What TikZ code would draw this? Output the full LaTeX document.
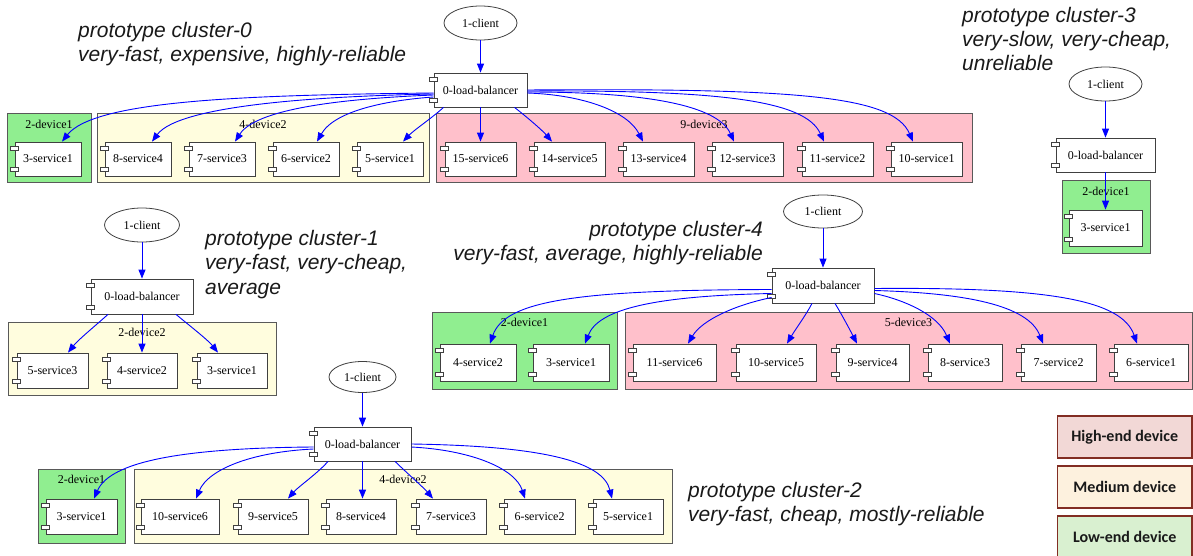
\documentclass[tikz,border=0pt]{standalone}
\usepackage{fontspec}
\setmainfont{Liberation Serif}
\newfontfamily\capfont{Liberation Sans}
\newfontfamily\legfont{Carlito}
\usetikzlibrary{shapes.geometric,arrows.meta}
\definecolor{clgreen}{HTML}{90EE90}
\definecolor{clyellow}{HTML}{FFFDDE}
\definecolor{clpink}{HTML}{FFC0CB}
\definecolor{edgeblue}{HTML}{0000FF}
\definecolor{legborder}{RGB}{130,45,35}
\definecolor{leghigh}{RGB}{242,216,214}
\definecolor{legmed}{RGB}{253,241,222}
\definecolor{leglow}{RGB}{217,240,208}
\tikzset{
  comp/.style={draw=black!75, fill=white, line width=0.8pt, inner sep=0pt, font=\fontsize{12}{14}\selectfont},
  compnub/.style={draw=black!75, fill=white, line width=0.6pt},
  clbox/.style={draw=black!65, line width=1pt, inner sep=0pt},
  cllabel/.style={inner sep=0pt, font=\fontsize{12}{14}\selectfont},
  client/.style={ellipse, draw=black!75, fill=white, line width=0.8pt, inner sep=0pt, font=\fontsize{12}{14}\selectfont},
  arrowline/.style={draw=edgeblue, line width=0.9pt, -{Triangle[length=9pt,width=7pt]}},
  captxt/.style={inner sep=0pt, font=\capfont\itshape\fontsize{21}{24}\selectfont, text=black!90},
  legbox/.style={draw=legborder, line width=1.4pt, inner sep=0pt, minimum width=134.5, minimum height=42, font=\legfont\bfseries\fontsize{16}{18}\selectfont, text=black!90}
}
% name, xL, xR, yT, yB, text
\newcommand\mkcomp[6]{%
  \node[comp, minimum width={#3-#2-4}, minimum height={#5-#4}] (#1) at ({(#2+4+#3)/2},{(#4+#5)/2}) {#6};
  \draw[compnub] ([xshift=-4pt,yshift=-5pt]#1.north west) rectangle ([xshift=4pt,yshift=-9pt]#1.north west);
  \draw[compnub] ([xshift=-4pt,yshift=5pt]#1.south west) rectangle ([xshift=4pt,yshift=9pt]#1.south west);
}
% name, xL, xR, yT, yB, fill, label
\newcommand\mkcluster[7]{%
  \node[clbox, fill=#6, minimum width={#3-#2}, minimum height={#5-#4}] (#1) at ({(#2+#3)/2},{(#4+#5)/2}) {};
  \node[cllabel, anchor=north] (#1-label) at ([yshift=-6pt]#1.north) {#7};
}
\begin{document}
\begin{tikzpicture}[x=1pt,y=-1pt]
\useasboundingbox (0,0) rectangle (1193,556);

% ================= captions =================
\node[captxt, anchor=base west] (cap0a) at (78,38) {prototype cluster-0};
\node[captxt, anchor=base west] (cap0b) at (78,62) {very-fast, expensive, highly-reliable};
\node[captxt, anchor=base west] (cap3a) at (962,23) {prototype cluster-3};
\node[captxt, anchor=base west] (cap3b) at (962,47) {very-slow, very-cheap,};
\node[captxt, anchor=base west] (cap3c) at (962,71) {unreliable};
\node[captxt, anchor=base west] (cap1a) at (205,245) {prototype cluster-1};
\node[captxt, anchor=base west] (cap1b) at (205,269) {very-fast, very-cheap,};
\node[captxt, anchor=base west] (cap1c) at (205,294) {average};
\node[captxt, anchor=base east] (cap4a) at (763,236) {prototype cluster-4};
\node[captxt, anchor=base east] (cap4b) at (763,260) {very-fast, average, highly-reliable};
\node[captxt, anchor=base west] (cap2a) at (688,497) {prototype cluster-2};
\node[captxt, anchor=base west] (cap2b) at (688,521) {very-fast, cheap, mostly-reliable};

% ================= cluster 0 =================
\mkcluster{c0g}{7}{91}{114}{183}{clgreen}{2-device1}
\mkcluster{c0y}{97}{429}{114}{183}{clyellow}{4-device2}
\mkcluster{c0p}{436}{972}{114}{183}{clpink}{9-device3}
\node[client, minimum width=73, minimum height=34] (c0cl) at (480.5,23) {1-client};
\mkcomp{c0lb}{430}{527}{73}{107}{0-load-balancer}
\mkcomp{c0s3}{11}{81}{142}{176}{3-service1}
\mkcomp{c0s8}{101}{171}{142}{176}{8-service4}
\mkcomp{c0s7}{185}{255}{142}{176}{7-service3}
\mkcomp{c0s6}{269}{339}{142}{176}{6-service2}
\mkcomp{c0s5}{353}{423}{142}{176}{5-service1}
\mkcomp{c0s15}{441}{516}{142}{176}{15-service6}
\mkcomp{c0s14}{530}{605}{142}{176}{14-service5}
\mkcomp{c0s13}{619}{694}{142}{176}{13-service4}
\mkcomp{c0s12}{708}{783}{142}{176}{12-service3}
\mkcomp{c0s11}{798}{873}{142}{176}{11-service2}
\mkcomp{c0s10}{887}{962}{142}{176}{10-service1}
\draw[arrowline] (c0cl.south) -- (c0lb.north);
\draw[arrowline] ([yshift=-3pt]c0lb.west) .. controls (250,95) and (95,100) .. ([xshift=14pt]c0s3.north);
\draw[arrowline] ([yshift=-4pt]c0lb.west) .. controls (330,96) and (180,104) .. ([xshift=14pt]c0s8.north);
\draw[arrowline] ([yshift=-5pt]c0lb.west) .. controls (360,98) and (258,106) .. ([xshift=13pt]c0s7.north);
\draw[arrowline] ([yshift=-7pt]c0lb.west) .. controls (390,100) and (335,110) .. ([xshift=11pt]c0s6.north);
\draw[arrowline] ([xshift=-37pt]c0lb.south) .. controls (432,118) and (414,130) .. ([xshift=13pt]c0s5.north);
\draw[arrowline] (c0lb.south) -- (c0s15.north);
\draw[arrowline] ([xshift=34pt]c0lb.south) .. controls (528,118) and (542,130) .. ([xshift=-17.5pt]c0s14.north);
\draw[arrowline] ([yshift=-3pt]c0lb.east) .. controls (585,95) and (628,112) .. ([xshift=-15.5pt]c0s13.north);
\draw[arrowline] ([yshift=-2pt]c0lb.east) .. controls (650,92) and (718,106) .. ([xshift=-13.5pt]c0s12.north);
\draw[arrowline] ([yshift=-1pt]c0lb.east) .. controls (720,90) and (805,100) .. ([xshift=-13.5pt]c0s11.north);
\draw[arrowline] (c0lb.east) .. controls (800,88) and (893,96) .. ([xshift=-13.5pt]c0s10.north);

% ================= cluster 3 =================
\mkcluster{c3g}{1062}{1150}{181}{253}{clgreen}{2-device1}
\node[client, minimum width=73, minimum height=34] (c3cl) at (1105.5,84) {1-client};
\mkcomp{c3lb}{1052}{1155}{138}{172}{0-load-balancer}
\mkcomp{c3s3}{1065}{1142}{210}{246}{3-service1}
\draw[arrowline] (c3cl.south) -- (c3lb.north);
\draw[arrowline] (c3lb.south) -- (c3s3.north);

% ================= cluster 1 =================
\mkcluster{c1y}{8}{276}{322}{395}{clyellow}{2-device2}
\node[client, minimum width=75, minimum height=34] (c1cl) at (142,225) {1-client};
\mkcomp{c1lb}{87}{193}{279}{314}{0-load-balancer}
\mkcomp{c1s5}{13}{88}{353}{388}{5-service3}
\mkcomp{c1s4}{103}{177}{353}{388}{4-service2}
\mkcomp{c1s3}{193}{267}{353}{388}{3-service1}
\draw[arrowline] (c1cl.south) -- (c1lb.north);
\draw[arrowline] ([xshift=-34pt]c1lb.south) .. controls (95,326) and (78,340) .. ([xshift=15.5pt]c1s5.north);
\draw[arrowline] (c1lb.south) -- (c1s4.north);
\draw[arrowline] ([xshift=34pt]c1lb.south) .. controls (190,326) and (208,340) .. ([xshift=-14pt]c1s3.north);

% ================= cluster 4 =================
\mkcluster{c4g}{432}{617}{312}{389}{clgreen}{2-device1}
\mkcluster{c4p}{625}{1192}{312}{389}{clpink}{5-device3}
\node[client, minimum width=79, minimum height=33] (c4cl) at (823,211.5) {1-client};
\mkcomp{c4lb}{768}{874}{268}{303}{0-load-balancer}
\mkcomp{c4s4}{436}{516}{344}{381}{4-service2}
\mkcomp{c4s3}{529}{609}{344}{381}{3-service1}
\mkcomp{c4s11}{629}{716}{344}{381}{11-service6}
\mkcomp{c4s10}{732}{816}{344}{381}{10-service5}
\mkcomp{c4s9}{832}{909}{344}{381}{9-service4}
\mkcomp{c4s8}{924}{1002}{344}{381}{8-service3}
\mkcomp{c4s7}{1017}{1096}{344}{381}{7-service2}
\mkcomp{c4s6}{1110}{1188}{344}{381}{6-service1}
\draw[arrowline] (c4cl.south) -- (c4lb.north);
\draw[arrowline] ([yshift=-4pt]c4lb.west) .. controls (580,290) and (505,300) .. ([xshift=12pt]c4s4.north);
\draw[arrowline] ([yshift=-8pt]c4lb.west) .. controls (650,296) and (598,310) .. ([xshift=14pt]c4s3.north);
\draw[arrowline] ([yshift=-12pt]c4lb.west) .. controls (735,305) and (702,320) .. ([xshift=13.5pt]c4s11.north);
\draw[arrowline] ([xshift=-11pt]c4lb.south) .. controls (806,315) and (795,330) .. ([xshift=11pt]c4s10.north);
\draw[arrowline] ([xshift=12pt]c4lb.south) .. controls (842,315) and (850,330) .. ([xshift=-15.5pt]c4s9.north);
\draw[arrowline] ([yshift=-8pt]c4lb.east) .. controls (905,300) and (938,315) .. ([xshift=-15pt]c4s8.north);
\draw[arrowline] ([yshift=-5pt]c4lb.east) .. controls (965,293) and (1028,305) .. ([xshift=-15.5pt]c4s7.north);
\draw[arrowline] ([yshift=-3pt]c4lb.east) .. controls (1050,287) and (1122,300) .. ([xshift=-14pt]c4s6.north);

% ================= cluster 2 =================
\mkcluster{c2g}{38}{125}{469}{543}{clgreen}{2-device1}
\mkcluster{c2y}{134}{672}{469}{543}{clyellow}{4-device2}
\node[client, minimum width=67, minimum height=31] (c2cl) at (362.5,377) {1-client};
\mkcomp{c2lb}{310}{411}{427}{461}{0-load-balancer}
\mkcomp{c2s3}{42}{117}{499}{534}{3-service1}
\mkcomp{c2s10}{137}{219}{499}{534}{10-service6}
\mkcomp{c2s9}{234}{308}{499}{534}{9-service5}
\mkcomp{c2s8}{322}{396}{499}{534}{8-service4}
\mkcomp{c2s7}{412}{486}{499}{534}{7-service3}
\mkcomp{c2s6}{500}{575}{499}{534}{6-service2}
\mkcomp{c2s5}{589}{663}{499}{534}{5-service1}
\draw[arrowline] (c2cl.south) -- (c2lb.north);
\draw[arrowline] ([yshift=-3pt]c2lb.west) .. controls (180,448) and (110,462) .. ([xshift=12.5pt]c2s3.north);
\draw[arrowline] ([yshift=-5pt]c2lb.west) .. controls (250,452) and (208,470) .. ([xshift=16pt]c2s10.north);
\draw[arrowline] ([xshift=-34.5pt]c2lb.south) .. controls (318,473) and (298,487) .. ([xshift=15pt]c2s9.north);
\draw[arrowline] (c2lb.south) -- (c2lb.south |- c2s8.north);
\draw[arrowline] ([xshift=32.5pt]c2lb.south) .. controls (408,474) and (424,488) .. ([xshift=-18pt]c2s7.north);
\draw[arrowline] ([yshift=-3pt]c2lb.east) .. controls (470,450) and (515,468) .. ([xshift=-14.5pt]c2s6.north);
\draw[arrowline] (c2lb.east) .. controls (545,446) and (603,462) .. ([xshift=-16pt]c2s5.north);

% ================= legend =================
\node[legbox, fill=leghigh] (legh) at (1124.75,437) {High-end device};
\node[legbox, fill=legmed] (legm) at (1124.75,487) {Medium device};
\node[legbox, fill=leglow] (legl) at (1124.75,537) {Low-end device};
\end{tikzpicture}
\end{document}
